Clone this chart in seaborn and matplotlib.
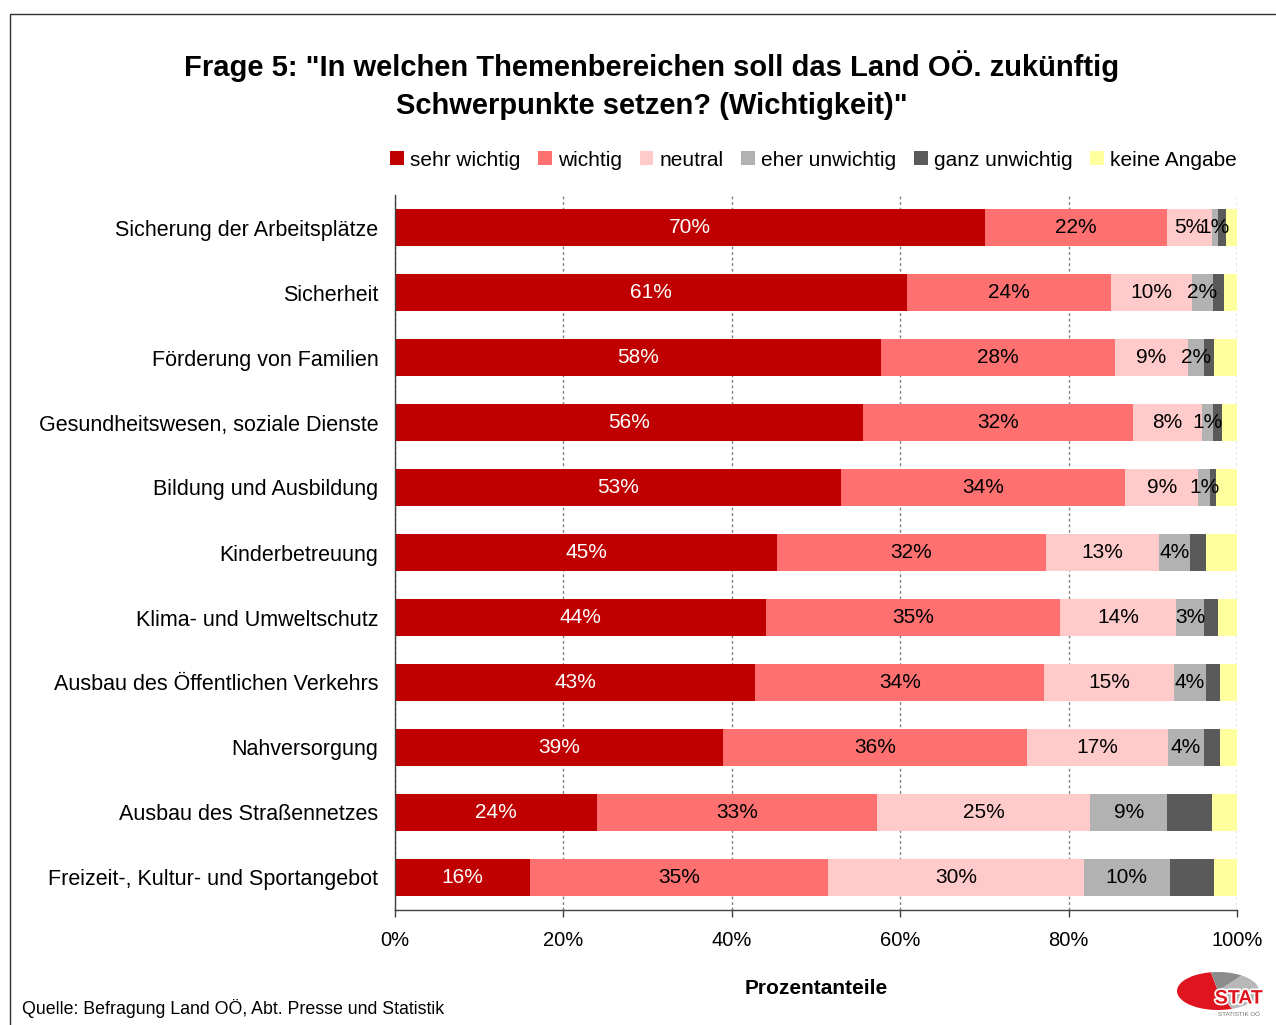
import numpy as np
import pandas as pd
import matplotlib
matplotlib.use("Agg")
import matplotlib.pyplot as plt
import seaborn as sns
from matplotlib.patches import Rectangle, Wedge
from matplotlib.ticker import PercentFormatter
import matplotlib.patheffects as pe

# Daten (in Prozent)
themen = [
    "Sicherung der Arbeitsplätze",
    "Sicherheit",
    "Förderung von Familien",
    "Gesundheitswesen, soziale Dienste",
    "Bildung und Ausbildung",
    "Kinderbetreuung",
    "Klima- und Umweltschutz",
    "Ausbau des Öffentlichen Verkehrs",
    "Nahversorgung",
    "Ausbau des Straßennetzes",
    "Freizeit-, Kultur- und Sportangebot",
]
sehr_wichtig = [70.1, 60.8, 57.7, 55.6, 53.0, 45.4, 44.1, 42.8, 39.0, 24.0, 16.0]
wichtig = [21.6, 24.2, 27.8, 32.0, 33.7, 31.9, 34.9, 34.3, 36.1, 33.3, 35.4]
neutral = [5.3, 9.7, 8.7, 8.2, 8.7, 13.4, 13.8, 15.4, 16.7, 25.3, 30.4]
eher_unwichtig = [0.7, 2.4, 1.9, 1.4, 1.4, 3.7, 3.3, 3.8, 4.3, 9.1, 10.2]
ganz_unwichtig = [1.0, 1.4, 1.2, 1.0, 0.7, 1.9, 1.6, 1.7, 1.9, 5.3, 5.3]
keine_angabe = [1.3, 1.5, 2.7, 1.8, 2.5, 3.7, 2.3, 2.0, 2.0, 3.0, 2.7]

antworten = ["sehr wichtig", "wichtig", "neutral", "eher unwichtig",
             "ganz unwichtig", "keine Angabe"]
farben = ["#C00000", "#FF7171", "#FFCACA", "#B2B2B2", "#5A5A5A", "#FFFF9E"]
beschriftet = [True, True, True, True, False, False]

werte = np.array([sehr_wichtig, wichtig, neutral, eher_unwichtig,
                  ganz_unwichtig, keine_angabe])
kumuliert = np.cumsum(werte, axis=0)

sns.set_theme(style="white")
plt.rcParams["font.family"] = ["Liberation Sans", "DejaVu Sans"]
plt.rcParams["text.color"] = "black"
plt.rcParams["xtick.color"] = "black"
plt.rcParams["ytick.color"] = "black"

W, H = 1276, 1025
fig = plt.figure(figsize=(W / 100, H / 100), dpi=100)
ax = fig.add_axes([395 / W, 1 - 910 / H, 842 / W, 715 / H])

# gestapelte Balken: kumulierte Summen von hinten nach vorne zeichnen
for i in reversed(range(len(antworten))):
    df = pd.DataFrame({"Thema": themen, "Wert": kumuliert[i]})
    sns.barplot(data=df, x="Wert", y="Thema", orient="h", color=farben[i],
                saturation=1, width=0.57, linewidth=0, ax=ax)

# Wertbeschriftungen
for i in range(len(antworten)):
    if not beschriftet[i]:
        continue
    for j, v in enumerate(werte[i]):
        ax.text(kumuliert[i][j] - v / 2, j, f"{v:.0f}%", ha="center",
                va="center", fontsize=15,
                color="white" if i == 0 else "black")

ax.set_xlim(0, 100)
ax.set_ylim(len(themen) - 0.5, -0.5)
ax.xaxis.set_major_formatter(PercentFormatter(decimals=0))
ax.set_xticks([0, 20, 40, 60, 80, 100])
ax.set_xlabel("")
ax.set_ylabel("")
ax.set_axisbelow(True)
ax.xaxis.grid(True, linestyle=(0, (2, 2)), color="#808080", linewidth=1)
ax.yaxis.grid(False)
for s in ["top", "right"]:
    ax.spines[s].set_visible(False)
for s in ["left", "bottom"]:
    ax.spines[s].set_color("#404040")
    ax.spines[s].set_linewidth(1)
ax.tick_params(axis="x", bottom=True, length=5, width=1, color="#404040",
               labelsize=14.5, pad=10, labelcolor="black")
ax.tick_params(axis="y", left=False, labelsize=15.5, pad=6, labelcolor="black")

# Titel
fig.text(652 / W, 1 - 85 / H,
         "Frage 5: \"In welchen Themenbereichen soll das Land OÖ. zukünftig\n"
         "Schwerpunkte setzen? (Wichtigkeit)\"",
         ha="center", va="center", fontsize=21, fontweight="bold",
         linespacing=1.45, color="black")

# Legende
handles = [Rectangle((0, 0), 1, 1, facecolor=c, edgecolor="none") for c in farben]
leg = fig.legend(handles, antworten, loc="center right",
                 bbox_to_anchor=(1245 / W, 1 - 160 / H), ncol=6, frameon=False,
                 fontsize=15, handlelength=0.65, handleheight=0.65,
                 handletextpad=0.3, columnspacing=0.85, borderaxespad=0)
for t in leg.get_texts():
    t.set_color("black")

# Achsentitel und Quelle
fig.text(816 / W, 1 - 988 / H, "Prozentanteile", ha="center", va="center",
         fontsize=15, fontweight="bold", color="black")
fig.text(22 / W, 1 - 1008 / H,
         "Quelle: Befragung Land OÖ, Abt. Presse und Statistik",
         ha="left", va="center", fontsize=12.8, color="black")

# Rahmen
fig.add_artist(Rectangle((10 / W, -0.1), 1.2, 1 - 14 / H + 0.1,
                         transform=fig.transFigure, fill=False,
                         edgecolor="#303030", linewidth=1))

# Logo
lax = fig.add_axes([1177 / W, 1 - 1010 / H, 82 / W, 38 / H])
lax.set_xlim(-1, 1)
lax.set_ylim(-1, 1)
lax.axis("off")
lax.add_patch(Wedge((0, 0), 1, 100, 290, facecolor="#E0141E", edgecolor="none"))
lax.add_patch(Wedge((0, 0), 1, -70, 55, facecolor="#B8B8B8", edgecolor="none"))
lax.add_patch(Wedge((0, 0), 1, 55, 100, facecolor="#8C8C8C", edgecolor="none"))
fig.text(1239 / W, 1 - 999 / H, "STAT", ha="center", va="center",
         fontsize=14, fontweight="bold", color="#E0141E",
         path_effects=[pe.withStroke(linewidth=2.5, foreground="white")])
fig.text(1239 / W, 1 - 1014 / H, "STATISTIK OÖ", ha="center", va="center",
         fontsize=4.5, color="#707070")

fig.savefig("out.png", dpi=100)
